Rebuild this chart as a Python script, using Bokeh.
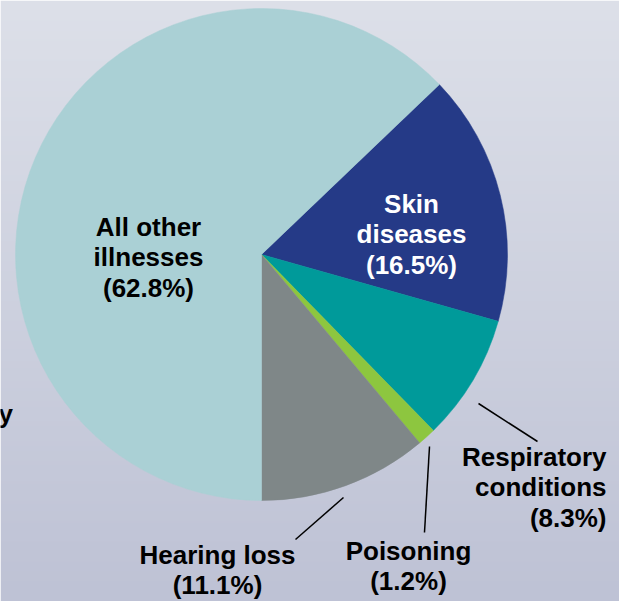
import numpy as np
from bokeh.plotting import figure
from bokeh.models import Range1d
from bokeh.core.properties import value
from bokeh.embed import file_html
from bokeh.resources import INLINE

# ---- data ----
categories = ["Skin diseases", "Respiratory conditions", "Poisoning", "Hearing loss", "All other illnesses"]
shares = [16.5, 8.3, 1.2, 11.1, 62.8]
name_lines = [["Skin", "diseases"], ["Respiratory", "conditions"], ["Poisoning"], ["Hearing loss"], ["All other", "illnesses"]]
colors = ["#253A87", "#009A9A", "#8DC63F", "#7F8788", "#AAD0D5"]

# ---- layout (picture pixel coordinates) ----
W, H = 619, 601
def Y(py):
    return H - py

p = figure(width=W, height=H, output_backend="svg", toolbar_location=None,
           x_range=Range1d(0, W), y_range=Range1d(0, H),
           min_border=0, outline_line_color=None)
p.axis.visible = False
p.grid.visible = False

# background vertical gradient
N = H
img = np.empty((N, 1), dtype=np.uint32)
view = img.view(dtype=np.uint8).reshape((N, 1, 4))
top = np.array([221, 224, 233])
bot = np.array([190, 194, 213])
for i in range(N):
    t = i / (N - 1)  # 0 bottom -> 1 top
    c = bot + (top - bot) * t
    view[i, 0, 0:3] = c.astype(np.uint8)
    view[i, 0, 3] = 255
p.image_rgba(image=[img], x=0, y=0, dw=W, dh=H)

# pie
cx, cy, r = 261, Y(254), 246
fr = np.array(shares) / sum(shares)
cum = np.concatenate([[0], np.cumsum(fr)[:-1]])
start0 = -np.pi / 2 + 2 * np.pi * fr[:4].sum()
starts = start0 - 2 * np.pi * cum
ends = starts - 2 * np.pi * fr
p.wedge(x=cx, y=cy, radius=r, start_angle=starts, end_angle=ends, direction="clock",
        fill_color=colors, line_color=colors, line_width=0.5)

# labels (first-line baseline positions)
label_pos = {
    "Skin diseases": (411, 203, "center", "white"),
    "Respiratory conditions": (606, 456, "right", "black"),
    "Poisoning": (408, 550, "center", "black"),
    "Hearing loss": (217, 554, "center", "black"),
    "All other illnesses": (148, 226, "center", "black"),
}
LS = 30.5
for cat, val, lines in zip(categories, shares, name_lines):
    x0, y0, align, col = label_pos[cat]
    all_lines = lines + [f"({val}%)"]
    for i, ln in enumerate(all_lines):
        p.text(x=[x0], y=[Y(y0 + i * LS)], text=[ln], text_align=align,
               text_baseline="alphabetic", text_color=col,
               text_font=value("Liberation Sans"), text_font_style="bold",
               text_font_size="26px")

# leader lines
leaders = [((478, 403), (537, 441)), ((429, 446), (424, 532)), ((343, 497), (295, 539))]
for (a, b) in leaders:
    p.segment(x0=[a[0]], y0=[Y(a[1])], x1=[b[0]], y1=[Y(b[1])], line_color="black", line_width=1.5)

# clipped text fragment at left edge
p.text(x=[12.5], y=[Y(413)], text=["y"], text_align="right", text_baseline="alphabetic",
       text_color="black", text_font=value("Liberation Sans"), text_font_style="bold",
       text_font_size="26px")

open("out.html", "w").write(file_html(p, INLINE))
